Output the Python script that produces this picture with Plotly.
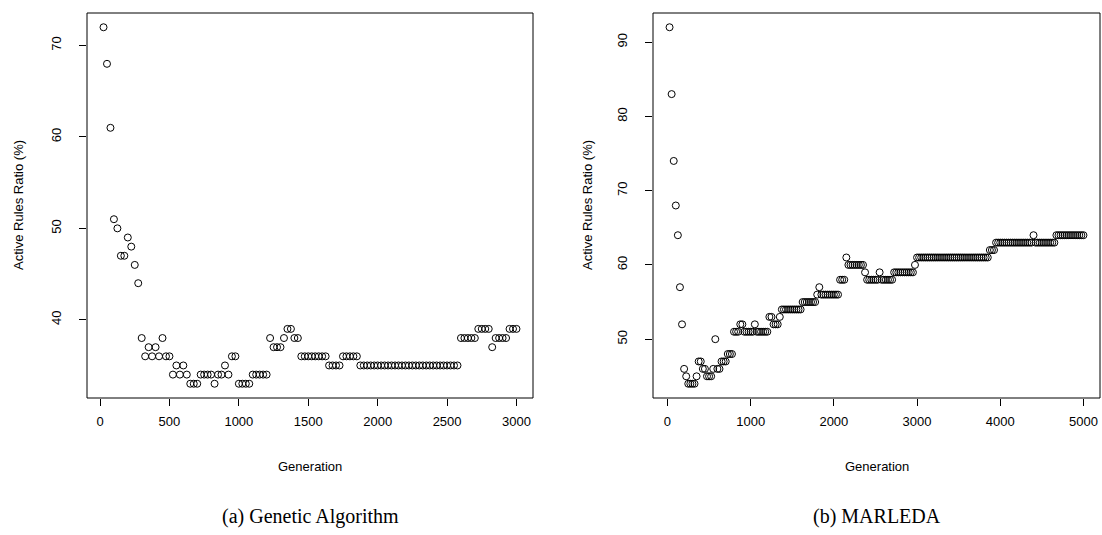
import plotly.graph_objects as go

# ---- data ----
ga_gen = list(range(25, 3001, 25))
ga_ratio = [72, 68, 61, 51, 50, 47, 47, 49, 48, 46, 44,
            38, 36, 37, 36, 37, 36, 38, 36, 36,
            34, 35, 34, 35, 34,
            33, 33, 33,
            34, 34, 34, 34, 33, 34, 34, 35, 34,
            36, 36,
            33, 33, 33, 33,
            34, 34, 34, 34, 34,
            38, 37, 37, 37, 38, 39, 39, 38, 38,
            36, 36, 36, 36, 36, 36, 36, 36,
            35, 35, 35, 35,
            36, 36, 36, 36, 36,
            35, 35, 35, 35, 35, 35, 35, 35, 35, 35,
            35, 35, 35, 35, 35, 35, 35, 35, 35, 35,
            35, 35, 35, 35, 35, 35, 35, 35, 35,
            38, 38, 38, 38, 38,
            39, 39, 39, 39,
            37,
            38, 38, 38, 38,
            39, 39, 39]

ml_gen = list(range(25, 5001, 25))
ml_ratio = [92, 83, 74, 68, 64, 57, 52,
            46, 45, 44, 44, 44, 44, 45,
            47, 47, 46, 46, 45, 45, 45, 46, 50, 46, 46, 47, 47, 47, 48, 48, 48,
            51, 51, 51, 52, 52, 51, 51, 51, 51, 51, 52, 51, 51, 51, 51, 51, 51,
            53, 53, 52, 52, 52, 53,
            54, 54, 54, 54, 54, 54, 54, 54, 54, 54,
            55, 55, 55, 55, 55, 55, 55,
            56, 57,
            56, 56, 56, 56, 56, 56, 56, 56, 56,
            58, 58, 58, 61,
            60, 60, 60, 60, 60, 60, 60, 60,
            59,
            58, 58, 58, 58, 58, 58,
            59,
            58, 58, 58, 58, 58, 58,
            59, 59, 59, 59, 59, 59, 59, 59, 59, 59,
            60,
            61, 61, 61, 61, 61, 61, 61, 61, 61, 61,
            61, 61, 61, 61, 61, 61, 61, 61, 61, 61,
            61, 61, 61, 61, 61, 61, 61, 61, 61, 61,
            61, 61, 61, 61, 61,
            62, 62, 62,
            63, 63, 63, 63, 63, 63, 63, 63, 63, 63,
            63, 63, 63, 63, 63, 63, 63, 63,
            64,
            63, 63, 63, 63, 63, 63, 63, 63, 63, 63,
            64, 64, 64, 64, 64, 64, 64, 64, 64, 64, 64, 64, 64, 64]

ga_xticks = [0, 500, 1000, 1500, 2000, 2500, 3000]
ga_yticks = [40, 50, 60, 70]
ml_xticks = [0, 1000, 2000, 3000, 4000, 5000]
ml_yticks = [50, 60, 70, 80, 90]

y_title = "Active Rules Ratio (%)"
x_title = "Generation"
captions = ["(a) Genetic Algorithm", "(b) MARLEDA"]


def r_range(vals):
    lo, hi = min(vals), max(vals)
    pad = (hi - lo) * 0.04
    return [lo - pad, hi + pad]


W, H = 1102, 535
SANS = "Liberation Sans, Arial, sans-serif"
SERIF = "Liberation Serif, Times New Roman, serif"

marker = dict(symbol="circle-open", size=7, color="black", line=dict(width=1, color="black"))

fig = go.Figure()
fig.add_trace(go.Scatter(x=ga_gen, y=ga_ratio, mode="markers", marker=marker,
                         xaxis="x", yaxis="y", showlegend=False, hoverinfo="x+y"))
fig.add_trace(go.Scatter(x=ml_gen, y=ml_ratio, mode="markers", marker=marker,
                         xaxis="x2", yaxis="y2", showlegend=False, hoverinfo="x+y"))

ydom = [137 / H, 522 / H]
left_dom = [87 / W, 533 / W]
right_dom = [653 / W, 1100 / W]

common_x = dict(showgrid=False, zeroline=False, showline=False, ticks="outside",
                ticklen=7, tickwidth=1, tickcolor="black", automargin=False,
                tickfont=dict(family=SANS, size=13, color="black"), ticklabelstandoff=4)
common_y = dict(showgrid=False, zeroline=False, showline=False, ticks="outside",
                ticklen=7, tickwidth=1, tickcolor="black", tickangle=-90, automargin=False,
                tickfont=dict(family=SANS, size=13, color="black"), ticklabelstandoff=13)

fig.update_layout(
    width=W, height=H,
    margin=dict(l=0, r=0, t=0, b=0),
    paper_bgcolor="white", plot_bgcolor="white",
    xaxis=dict(domain=left_dom, anchor="y", range=r_range(ga_gen), tickvals=ga_xticks, **common_x),
    yaxis=dict(domain=ydom, anchor="x", range=r_range(ga_ratio), tickvals=ga_yticks, **common_y),
    xaxis2=dict(domain=right_dom, anchor="y2", range=r_range(ml_gen), tickvals=ml_xticks, **common_x),
    yaxis2=dict(domain=ydom, anchor="x2", range=r_range(ml_ratio), tickvals=ml_yticks, **common_y),
)

# plot boxes
for xr, yr in (("x domain", "y domain"), ("x2 domain", "y2 domain")):
    fig.add_shape(type="rect", xref=xr, yref=yr, x0=0, x1=1, y0=0, y1=1,
                  line=dict(color="black", width=1), layer="above")

# axis titles and captions
for dom, cap in ((left_dom, captions[0]), (right_dom, captions[1])):
    cx = (dom[0] + dom[1]) / 2
    fig.add_annotation(x=cx, y=(H - 466) / H, xref="paper", yref="paper", text=x_title,
                       xanchor="center", yanchor="middle",
                       showarrow=False, font=dict(family=SANS, size=13, color="black"))
    fig.add_annotation(x=cx, y=(H - 516) / H, xref="paper", yref="paper", text=cap,
                       xanchor="center", yanchor="middle",
                       showarrow=False, font=dict(family=SERIF, size=20, color="black"))

for xpix in (18, 587):
    fig.add_annotation(x=xpix / W, y=(H - 205) / H, xref="paper", yref="paper", text=y_title,
                       xanchor="center", yanchor="middle",
                       textangle=-90, showarrow=False, font=dict(family=SANS, size=13, color="black"))

fig.write_html("out.html",
               config={"displayModeBar": False},
               post_script="document.body.style.margin='0';document.body.style.overflow='hidden';")
